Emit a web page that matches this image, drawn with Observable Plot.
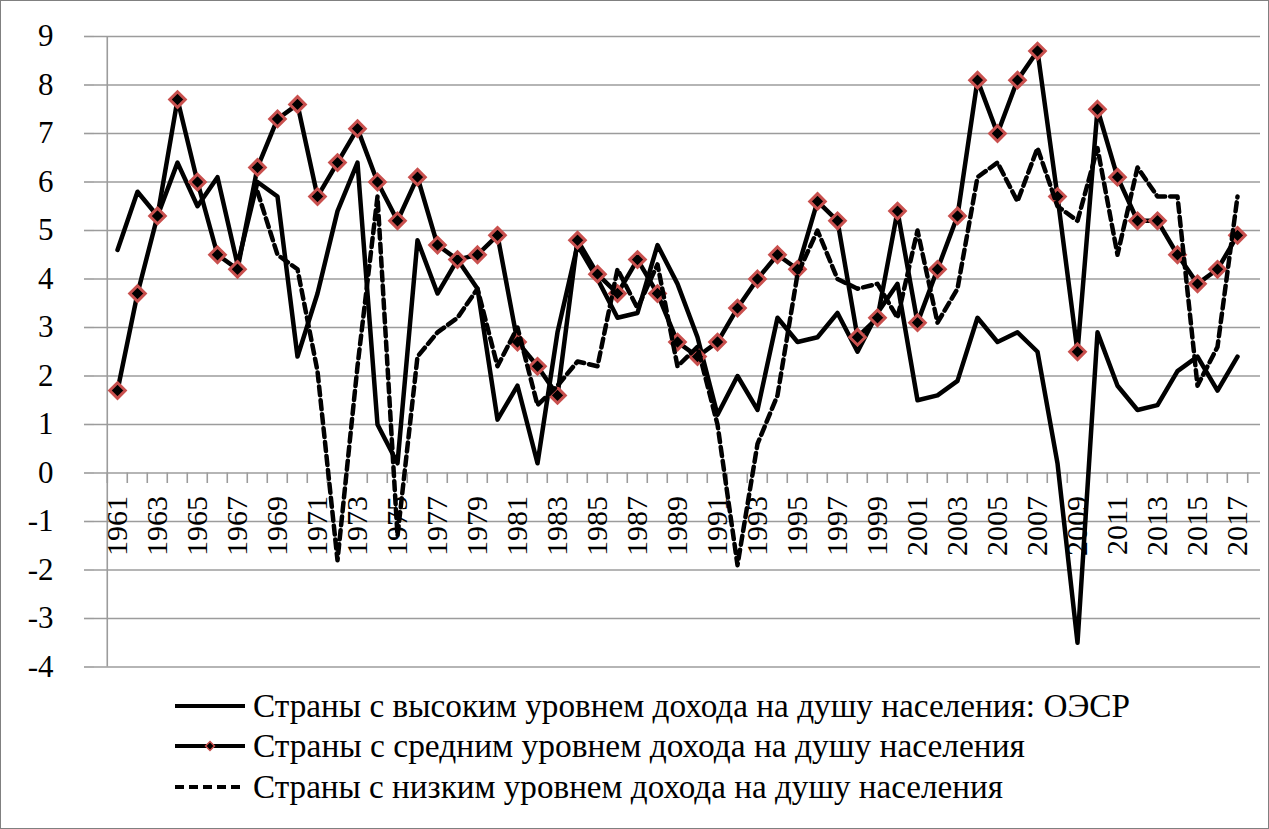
<!DOCTYPE html>
<html><head><meta charset="utf-8">
<script src="https://cdn.jsdelivr.net/npm/d3@7"></script>
<script src="https://cdn.jsdelivr.net/npm/@observablehq/plot@0.6"></script>
<style>
body{margin:0;background:#fff;}
#wrap{position:relative;width:1269px;height:829px;overflow:hidden;background:#fff;}
#frame{position:absolute;left:0;top:0;width:1267px;height:827px;border:1px solid #808080;pointer-events:none;}
#chart svg, #legend svg{display:block;}
#chart{position:relative;z-index:1;}
#chart svg text, #legend svg text{font-family:"Liberation Serif","DejaVu Serif",serif !important;}
</style></head><body>
<div id="wrap"><div id="chart"></div><div id="legend"></div><div id="frame"></div></div>
<script>
const years = d3.range(1961, 2018);
const labelYears = years.filter(y => y % 2 === 1);
const yTicks = [-4, -3, -2, -1, 0, 1, 2, 3, 4, 5, 6, 7, 8, 9];

const high = [4.6,5.8,5.3,6.4,5.5,6.1,4.3,6.0,5.7,2.4,
              3.7,5.4,6.4,1.0,0.2,4.8,3.7,4.4,3.8,1.1,
              1.8,0.2,2.9,4.7,4.0,3.2,3.3,4.7,3.9,2.8,
              1.2,2.0,1.3,3.2,2.7,2.8,3.3,2.5,3.3,3.9,
              1.5,1.6,1.9,3.2,2.7,2.9,2.5,0.2,-3.5,2.9,
              1.8,1.3,1.4,2.1,2.4,1.7,2.4];
const mid = [1.7,3.7,5.3,7.7,6.0,4.5,4.2,6.3,7.3,7.6,
             5.7,6.4,7.1,6.0,5.2,6.1,4.7,4.4,4.5,4.9,
             2.7,2.2,1.6,4.8,4.1,3.7,4.4,3.7,2.7,2.4,
             2.7,3.4,4.0,4.5,4.2,5.6,5.2,2.8,3.2,5.4,
             3.1,4.2,5.3,8.1,7.0,8.1,8.7,5.7,2.5,7.5,
             6.1,5.2,5.2,4.5,3.9,4.2,4.9];
const low = [null,null,null,null,null,null,null,5.8,4.5,4.2,
             2.1,-1.8,2.2,5.7,-1.3,2.4,2.9,3.2,3.8,2.2,
             3.0,1.4,1.8,2.3,2.2,4.2,3.4,4.3,2.2,2.6,
             1.0,-1.9,0.6,1.6,4.1,5.0,4.0,3.8,3.9,3.2,
             5.0,3.1,3.8,6.1,6.4,5.6,6.7,5.5,5.2,6.7,
             4.5,6.3,5.7,5.7,1.8,2.6,5.7];
const seriesNames = [
  "Страны с высоким уровнем дохода на душу населения:  ОЭСР",
  "Страны с средним уровнем дохода на душу населения",
  "Страны с низким уровнем дохода на душу населения"
];

const rows = years.map((year, i) => ({year, high: high[i], mid: mid[i], low: low[i]}));

const W = 1269, H = 672, mL = 94, mR = 9, mT = 36, mB = 5.5;
const step = (W - mL - mR) / years.length;
const pxPerUnit = (H - mT - mB) / 13;
const grid = "#9c9c9c";

const chart = Plot.plot({
  width: W, height: H,
  marginLeft: mL, marginRight: mR, marginTop: mT, marginBottom: mB,
  x: {type: "point", domain: years, padding: 0.5, axis: null},
  y: {domain: [-4, 9], axis: null},
  style: {background: "transparent", color: "black", overflow: "visible"},
  marks: [
    Plot.gridY(yTicks, {stroke: grid, strokeOpacity: 1, strokeWidth: 1.6}),
    Plot.axisY(yTicks, {tickSize: 10, tickPadding: 31, fontSize: 31, stroke: grid, strokeWidth: 1.6, strokeOpacity: 1, tickFormat: d => d < 0 ? "-" + Math.abs(d) : String(d)}),
    Plot.ruleX([years[0]], {dx: -step / 2, y1: -4, y2: 9, stroke: grid, strokeWidth: 1.6}),
    Plot.ruleX(years, {dx: -step / 2, y1: 0, y2: -10.5 / pxPerUnit, stroke: grid, strokeWidth: 1.6}),
    Plot.ruleX([years[years.length - 1]], {dx: step / 2, y1: 0, y2: -10.5 / pxPerUnit, stroke: grid, strokeWidth: 1.6}),
    Plot.text(labelYears, {x: d => d, y: 0, text: d => String(d), rotate: -90, textAnchor: "end", lineAnchor: "middle", dy: 23, fontSize: 30, fill: "black"}),
    Plot.lineY(rows, {x: "year", y: "high", stroke: "black", strokeWidth: 4.5}),
    Plot.lineY(rows, {x: "year", y: "mid", stroke: "black", strokeWidth: 4.5}),
    Plot.dot(rows, {x: "year", y: "mid", symbol: "diamond2", r: 7, fill: "black", stroke: "#c9504e", strokeWidth: 3}),
    Plot.lineY(rows, {x: "year", y: "low", stroke: "black", strokeWidth: 4.5, strokeDasharray: "9,5"})
  ]
});
document.getElementById("chart").appendChild(chart);

// Legend
const LH = 829 - H;
const leg = d3.select("#legend").append("svg").attr("width", W).attr("height", LH);
const rowY = [34, 74, 115];
const widths = [877, 772, 750];
seriesNames.forEach((name, i) => {
  const g = leg.append("g").attr("transform", `translate(0,${rowY[i]})`);
  const line = g.append("line").attr("x1", 175).attr("x2", 245).attr("y1", 0).attr("y2", 0)
    .attr("stroke", "black").attr("stroke-width", 4);
  if (i === 2) line.attr("stroke-dasharray", "9,5");
  if (i === 1) g.append("path").attr("d", d3.symbol(d3.symbolDiamond2, 50)()).attr("transform", "translate(210,0)")
    .attr("fill", "black").attr("stroke", "#c9504e").attr("stroke-width", 1.5);
  g.append("text").attr("x", 253).attr("y", 0).attr("dy", "0.34em")
    .attr("font-size", 33)
    .attr("textLength", widths[i]).attr("lengthAdjust", "spacingAndGlyphs")
    .text(name);
});
</script></body></html>
